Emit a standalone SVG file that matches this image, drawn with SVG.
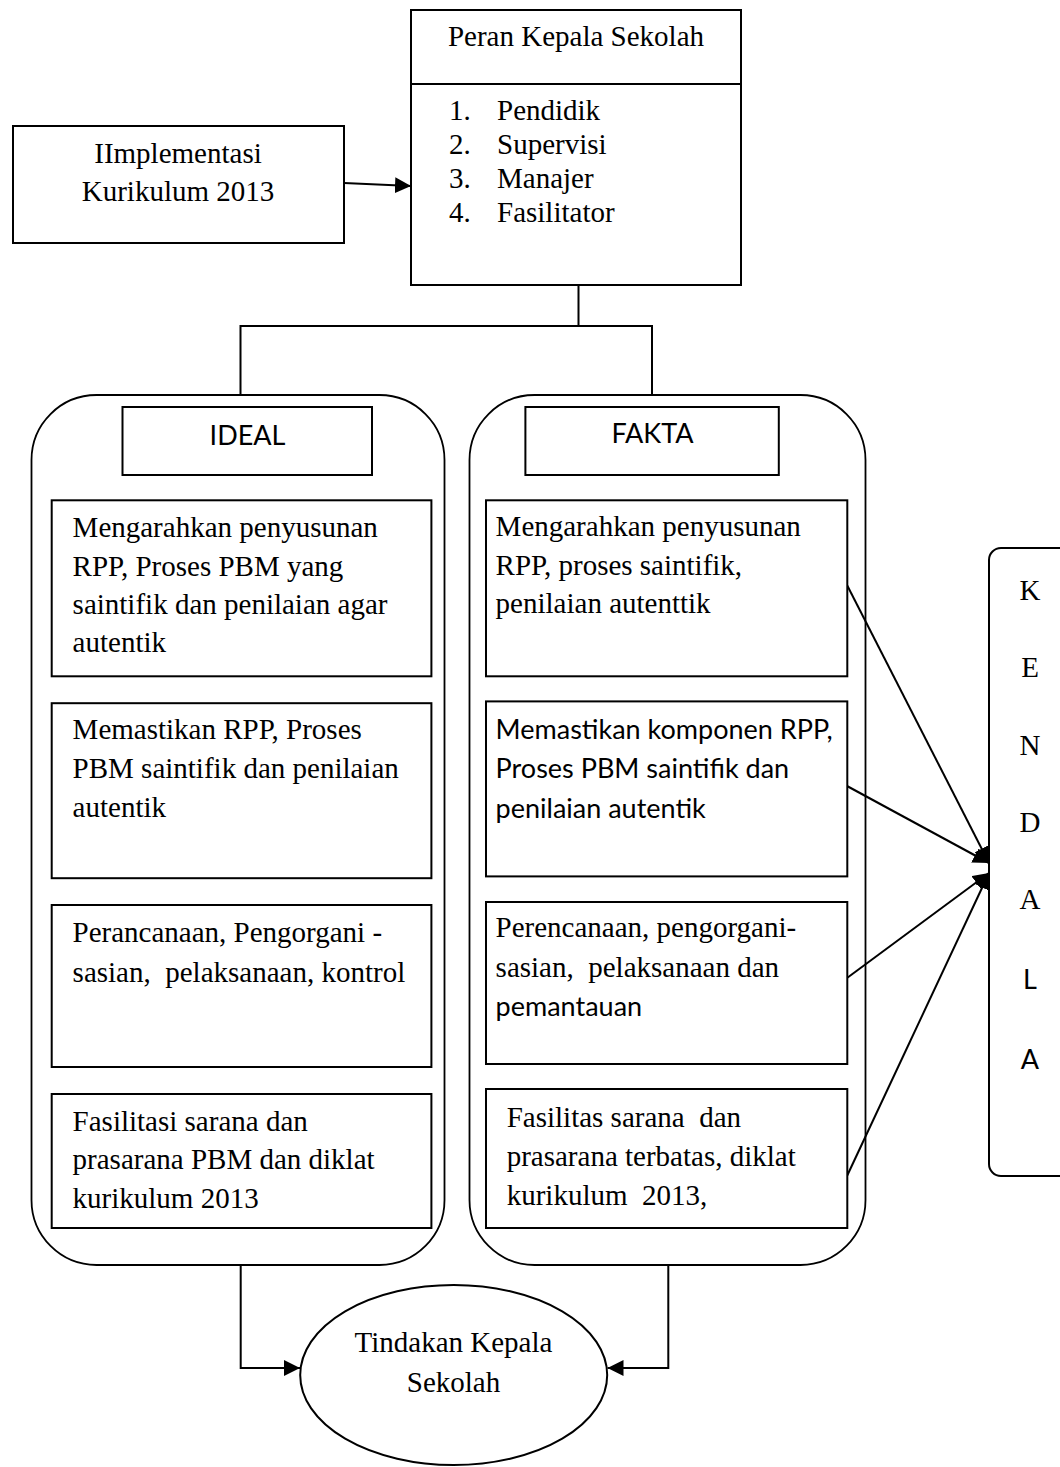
<svg xmlns="http://www.w3.org/2000/svg" width="1060" height="1467" viewBox="0 0 1060 1467">
<defs>
<style>
.box{fill:#fff;stroke:#000;stroke-width:2}
.cont{fill:none;stroke:#000;stroke-width:1.8}
.ln{fill:none;stroke:#000;stroke-width:2}
.s{font-family:"Liberation Serif","Times New Roman",serif;font-size:29px;fill:#000;white-space:pre}
.c{font-family:Lato,"Noto Sans",sans-serif;font-size:27px;fill:#000;white-space:pre}
.m{text-anchor:middle}
</style>
<marker id="ah" markerWidth="16" markerHeight="16" viewBox="0 0 16 16" refX="16" refY="8" orient="auto" markerUnits="userSpaceOnUse">
<path d="M0,0 L16,8 L0,16 Z" fill="#000"/>
</marker>
</defs>
<rect width="1060" height="1467" fill="#fff"/>

<g id="connectors">
<line class="ln" x1="344" y1="183" x2="411" y2="186" marker-end="url(#ah)"/>
<polyline class="ln" points="578.5,285 578.5,326 240.5,326 240.5,395"/>
<polyline class="ln" points="578.5,326 652,326 652,395"/>
<polyline class="ln" points="240.7,1265 240.7,1368 300,1368" marker-end="url(#ah)"/>
<polyline class="ln" points="668.3,1265 668.3,1368 607.5,1368" marker-end="url(#ah)"/>
<line class="ln" x1="847" y1="585" x2="989" y2="863" marker-end="url(#ah)"/>
<line class="ln" x1="847" y1="786" x2="989" y2="863" marker-end="url(#ah)"/>
<line class="ln" x1="847" y1="978" x2="989" y2="873" marker-end="url(#ah)"/>
<line class="ln" x1="847" y1="1176" x2="989" y2="873" marker-end="url(#ah)"/>
</g>

<g id="implementasi">
<rect class="box" x="13" y="126" width="331" height="117"/>
<text class="s m" x="178" y="163">IImplementasi</text>
<text class="s m" x="178" y="201">Kurikulum 2013</text>
</g>

<g id="peran">
<rect class="box" x="411" y="10" width="330" height="275"/>
<line class="ln" x1="411" y1="84" x2="741" y2="84"/>
<text class="s m" x="576" y="46">Peran Kepala Sekolah</text>
<text class="s" x="449" y="120">1.</text><text class="s" x="497" y="120">Pendidik</text>
<text class="s" x="449" y="154">2.</text><text class="s" x="497" y="154">Supervisi</text>
<text class="s" x="449" y="188">3.</text><text class="s" x="497" y="188">Manajer</text>
<text class="s" x="449" y="222">4.</text><text class="s" x="497" y="222">Fasilitator</text>
</g>

<g id="ideal">
<rect class="cont" x="31.5" y="395" width="413" height="870" rx="65" ry="65"/>
<rect class="box" x="122.5" y="407" width="249.5" height="68"/>
<text class="c m" x="247.5" y="445">IDEAL</text>
</g>

<g id="ideal-1">
<rect class="box" x="51.7" y="500.3" width="379.7" height="176"/>
<text class="s" x="72.6" y="537">Mengarahkan penyusunan</text>
<text class="s" x="72.6" y="575.5">RPP, Proses PBM yang</text>
<text class="s" x="72.6" y="614">saintifik dan penilaian agar</text>
<text class="s" x="72.6" y="652">autentik</text>
</g>

<g id="ideal-2">
<rect class="box" x="51.7" y="703.2" width="379.7" height="175"/>
<text class="s" x="72.6" y="739">Memastikan RPP, Proses</text>
<text class="s" x="72.6" y="778">PBM saintifik dan penilaian</text>
<text class="s" x="72.6" y="817">autentik</text>
</g>

<g id="ideal-3">
<rect class="box" x="51.7" y="905" width="379.7" height="162"/>
<text class="s" x="72.6" y="942">Perancanaan, Pengorgani -</text>
<text class="s" x="72.6" y="981.5">sasian,  pelaksanaan, kontrol</text>
</g>

<g id="ideal-4">
<rect class="box" x="51.7" y="1094" width="379.7" height="134"/>
<text class="s" x="72.6" y="1130.5">Fasilitasi sarana dan</text>
<text class="s" x="72.6" y="1169">prasarana PBM dan diklat</text>
<text class="s" x="72.6" y="1208">kurikulum 2013</text>
</g>

<g id="fakta">
<rect class="cont" x="469.5" y="395" width="396" height="870" rx="65" ry="65"/>
<rect class="box" x="525.4" y="407" width="253.4" height="68"/>
<text class="c m" x="652.5" y="443">FAKTA</text>
</g>

<g id="fakta-1">
<rect class="box" x="486" y="500.3" width="361.3" height="176"/>
<text class="s" x="495.6" y="536">Mengarahkan penyusunan</text>
<text class="s" x="495.6" y="575">RPP, proses saintifik,</text>
<text class="s" x="495.6" y="613">penilaian autenttik</text>
</g>

<g id="fakta-2">
<rect class="box" x="486" y="701.4" width="361.3" height="175"/>
<text class="c" x="495.6" y="739">Memastikan komponen RPP,</text>
<text class="c" x="495.6" y="778">Proses PBM saintifik dan</text>
<text class="c" x="495.6" y="818">penilaian autentik</text>
</g>

<g id="fakta-3">
<rect class="box" x="486" y="902" width="361.3" height="162"/>
<text class="s" x="495.6" y="937">Perencanaan, pengorgani-</text>
<text class="s" x="495.6" y="976.5">sasian,  pelaksanaan dan</text>
<text class="c" x="495.6" y="1015.5">pemantauan</text>
</g>

<g id="fakta-4">
<rect class="box" x="486" y="1089" width="361.3" height="139"/>
<text class="s" x="506.7" y="1126.5">Fasilitas sarana  dan</text>
<text class="s" x="506.7" y="1165.5">prasarana terbatas, diklat</text>
<text class="s" x="506.7" y="1205">kurikulum  2013,</text>
</g>

<g id="kendala">
<rect class="box" x="989" y="548" width="100" height="628" rx="12" ry="12"/>
<text class="s m" x="1030" y="600">K</text>
<text class="s m" x="1030" y="677">E</text>
<text class="s m" x="1030" y="755">N</text>
<text class="s m" x="1030" y="832">D</text>
<text class="s m" x="1030" y="909">A</text>
<text class="c m" x="1030" y="989">L</text>
<text class="c m" x="1030" y="1069">A</text>
</g>

<g id="tindakan">
<ellipse class="box" cx="453.7" cy="1375" rx="153.5" ry="90"/>
<text class="s m" x="453.5" y="1352">Tindakan Kepala</text>
<text class="s m" x="453.5" y="1392">Sekolah</text>
</g>
</svg>
